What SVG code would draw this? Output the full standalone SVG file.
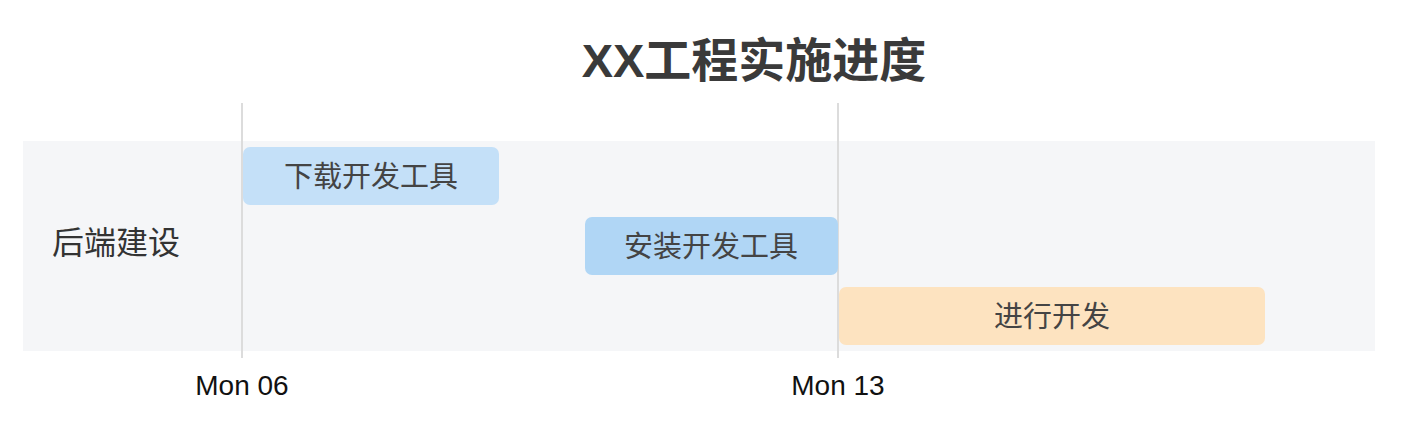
<svg xmlns="http://www.w3.org/2000/svg" width="1407" height="430" viewBox="0 0 1407 430">
<style>
text{font-family:"Liberation Sans","Noto Sans CJK SC",sans-serif}
.t{font-size:29px;fill:#444;text-anchor:middle}
.ax{font-size:28px;fill:#111;text-anchor:middle}
.grid{stroke:#dcdcdc;stroke-width:2}
</style>
<rect width="1407" height="430" fill="#fff"/>
<text x="754" y="77" font-size="47" font-weight="bold" fill="#3a3a3a" text-anchor="middle">XX工程实施进度</text>
<rect x="23" y="141" width="1352" height="210" fill="#f5f6f8"/>
<text x="116" y="254" font-size="32" fill="#333" text-anchor="middle">后端建设</text>
<g id="connectors">
<line class="grid" x1="242" y1="103" x2="242" y2="358"/>
<line class="grid" x1="838" y1="103" x2="838" y2="358"/>
</g>
<g id="task1"><rect x="243" y="147" width="256" height="58" rx="7" fill="#c4e0f8"/><text class="t" x="371" y="187">下载开发工具</text></g>
<g id="task2"><rect x="585" y="217" width="253" height="58" rx="7" fill="#b0d6f5"/><text class="t" x="711" y="257">安装开发工具</text></g>
<g id="task3"><rect x="839" y="287" width="426" height="58" rx="7" fill="#fde3c0"/><text class="t" x="1052" y="327">进行开发</text></g>
<text class="ax" x="242" y="395">Mon 06</text>
<text class="ax" x="838" y="395">Mon 13</text>
</svg>
